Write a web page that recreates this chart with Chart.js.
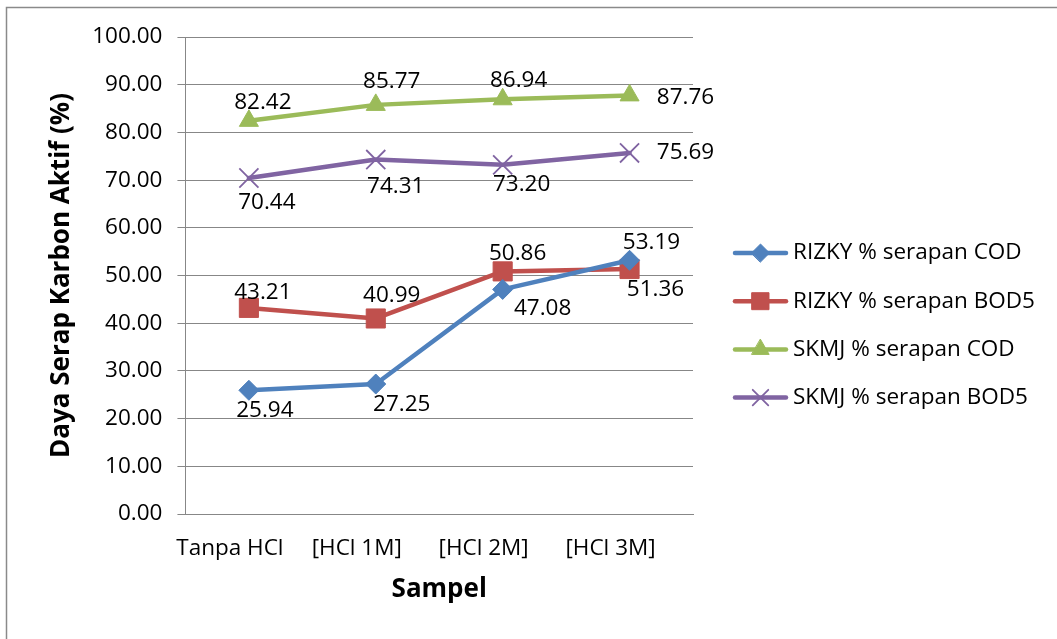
<!DOCTYPE html>
<html>
<head>
<meta charset="utf-8">
<title>Daya Serap Karbon Aktif</title>
<script src="https://cdn.jsdelivr.net/npm/chart.js@4/dist/chart.umd.min.js"></script>
<style>
  html, body { margin: 0; padding: 0; background: #ffffff; }
  #wrap { width: 1057px; height: 639px; }
</style>
</head>
<body>
<div id="wrap"><canvas id="chart" width="1057" height="639"></canvas></div>
<script>
// Sample categories (x axis)
const categories = ['Tanpa HCl', '[HCl 1M]', '[HCl 2M]', '[HCl 3M]'];

// Absorption (%) per series
const rizkyCOD  = [25.94, 27.25, 47.08, 53.19];
const rizkyBOD5 = [43.21, 40.99, 50.86, 51.36];
const skmjCOD   = [82.42, 85.77, 86.94, 87.76];
const skmjBOD5  = [70.44, 74.31, 73.20, 75.69];

// Series names
const seriesNames = [
  'RIZKY % serapan COD',
  'RIZKY % serapan BOD5',
  'SKMJ % serapan COD',
  'SKMJ % serapan BOD5'
];

// Value axis range
const yMin = 0, yMax = 100, yStep = 10;

// Where each value label sits relative to its point [dx, dy]
const labelShiftRizkyCOD  = [[16, 20], [26, 21], [40, 19], [22, -18]];
const labelShiftRizkyBOD5 = [[14, -15], [16, -23], [15, -18], [26, 21]];
const labelShiftSkmjCOD   = [[14, -18], [16, -23], [16, -19], [56, 2]];
const labelShiftSkmjBOD5  = [[18, 25], [20, 27], [19, 20], [56, 0]];

const FONT = "'Open Sans', 'Noto Sans', sans-serif";
const TEXT_SIZE = 22.5;

function series(name, values, color, style, radius, borderW, shifts) {
  return {
    label: name,
    data: values,
    borderColor: color,
    backgroundColor: color,
    borderWidth: 4.5,
    borderCapStyle: 'round',
    borderJoinStyle: 'round',
    pointStyle: style,
    pointRadius: radius,
    pointHoverRadius: radius,
    pointBackgroundColor: color,
    pointBorderColor: color,
    pointBorderWidth: borderW,
    tension: 0,
    fill: false,
    valueLabelShift: shifts
  };
}

// Outer frame of the chart
const framePlugin = {
  id: 'frame',
  beforeDraw(chart) {
    const ctx = chart.ctx;
    ctx.save();
    ctx.fillStyle = '#ffffff';
    ctx.fillRect(0, 0, chart.width, chart.height);
    ctx.strokeStyle = '#8a8a8a';
    ctx.lineWidth = 1.5;
    ctx.strokeRect(6.5, 7.5, chart.width + 50, chart.height + 50);
    ctx.restore();
  }
};

// Numeric labels next to each point
const valueLabelPlugin = {
  id: 'valueLabels',
  afterDatasetsDraw(chart) {
    const ctx = chart.ctx;
    ctx.save();
    ctx.font = TEXT_SIZE + "px " + FONT;
    ctx.fillStyle = '#000000';
    ctx.textAlign = 'center';
    ctx.textBaseline = 'middle';
    chart.data.datasets.forEach((ds, i) => {
      const meta = chart.getDatasetMeta(i);
      meta.data.forEach((pt, j) => {
        const s = ds.valueLabelShift[j];
        ctx.fillText(ds.data[j].toFixed(2), pt.x + s[0], pt.y + s[1]);
      });
    });
    ctx.restore();
  }
};

// Legend with line + marker samples on the right
const sideLegendPlugin = {
  id: 'sideLegend',
  afterDraw(chart) {
    const ctx = chart.ctx;
    const radii = [9, 12, 10, 11];
    ctx.save();
    chart.data.datasets.forEach((ds, i) => {
      const y = 253 + i * 48.2;
      ctx.strokeStyle = ds.borderColor;
      ctx.lineWidth = 4.5;
      ctx.lineCap = 'round';
      ctx.beginPath();
      ctx.moveTo(735, y);
      ctx.lineTo(786, y);
      ctx.stroke();
      ctx.fillStyle = ds.pointBackgroundColor;
      ctx.strokeStyle = ds.pointBorderColor;
      ctx.lineWidth = ds.pointBorderWidth;
      Chart.helpers.drawPoint(ctx, {
        pointStyle: ds.pointStyle,
        radius: radii[i],
        rotation: 0,
        borderWidth: ds.pointBorderWidth
      }, 760.5, y);
      ctx.fillStyle = '#000000';
      ctx.font = TEXT_SIZE + "px " + FONT;
      ctx.textAlign = 'left';
      ctx.textBaseline = 'middle';
      ctx.fillText(ds.label, 793, y);
    });
    ctx.restore();
  }
};

new Chart(document.getElementById('chart'), {
  type: 'line',
  data: {
    labels: categories,
    datasets: [
      series(seriesNames[0], rizkyCOD,  '#4f81bd', 'rectRot',  10,   1,   labelShiftRizkyCOD),
      series(seriesNames[1], rizkyBOD5, '#c0504d', 'rect',     13.5, 1,   labelShiftRizkyBOD5),
      series(seriesNames[2], skmjCOD,   '#9bbb59', 'triangle', 11,   1,   labelShiftSkmjCOD),
      series(seriesNames[3], skmjBOD5,  '#8064a2', 'crossRot', 13.5, 1.8, labelShiftSkmjBOD5)
    ]
  },
  options: {
    responsive: false,
    animation: false,
    devicePixelRatio: 1,
    layout: { padding: { left: 46, right: 364, top: 37, bottom: 43 } },
    plugins: {
      legend: { display: false },
      tooltip: { enabled: false }
    },
    scales: {
      x: {
        offset: true,
        grid: { display: false, drawTicks: false },
        border: { display: true, color: '#878787', width: 1 },
        ticks: {
          color: '#000000',
          font: { family: FONT, size: TEXT_SIZE },
          padding: 21,
          labelOffset: -19,
          maxRotation: 0,
          autoSkip: false
        },
        title: {
          display: true,
          text: 'Sampel',
          color: '#000000',
          font: { family: FONT, size: 26, weight: 'bold', lineHeight: 0.5 },
          padding: { top: 0, bottom: 0 }
        }
      },
      y: {
        min: yMin,
        max: yMax,
        grid: { color: '#878787', lineWidth: 1, tickLength: 8, drawTicks: true },
        border: { display: true, color: '#878787', width: 1 },
        ticks: {
          stepSize: yStep,
          color: '#000000',
          font: { family: FONT, size: TEXT_SIZE },
          padding: 15,
          callback: (v) => Number(v).toFixed(2)
        },
        title: {
          display: true,
          text: 'Daya Serap Karbon Aktif (%)',
          color: '#000000',
          font: { family: FONT, size: 26, weight: 'bold' },
          padding: { top: 0, bottom: 0 }
        }
      }
    }
  },
  plugins: [framePlugin, valueLabelPlugin, sideLegendPlugin]
});
</script>
</body>
</html>
